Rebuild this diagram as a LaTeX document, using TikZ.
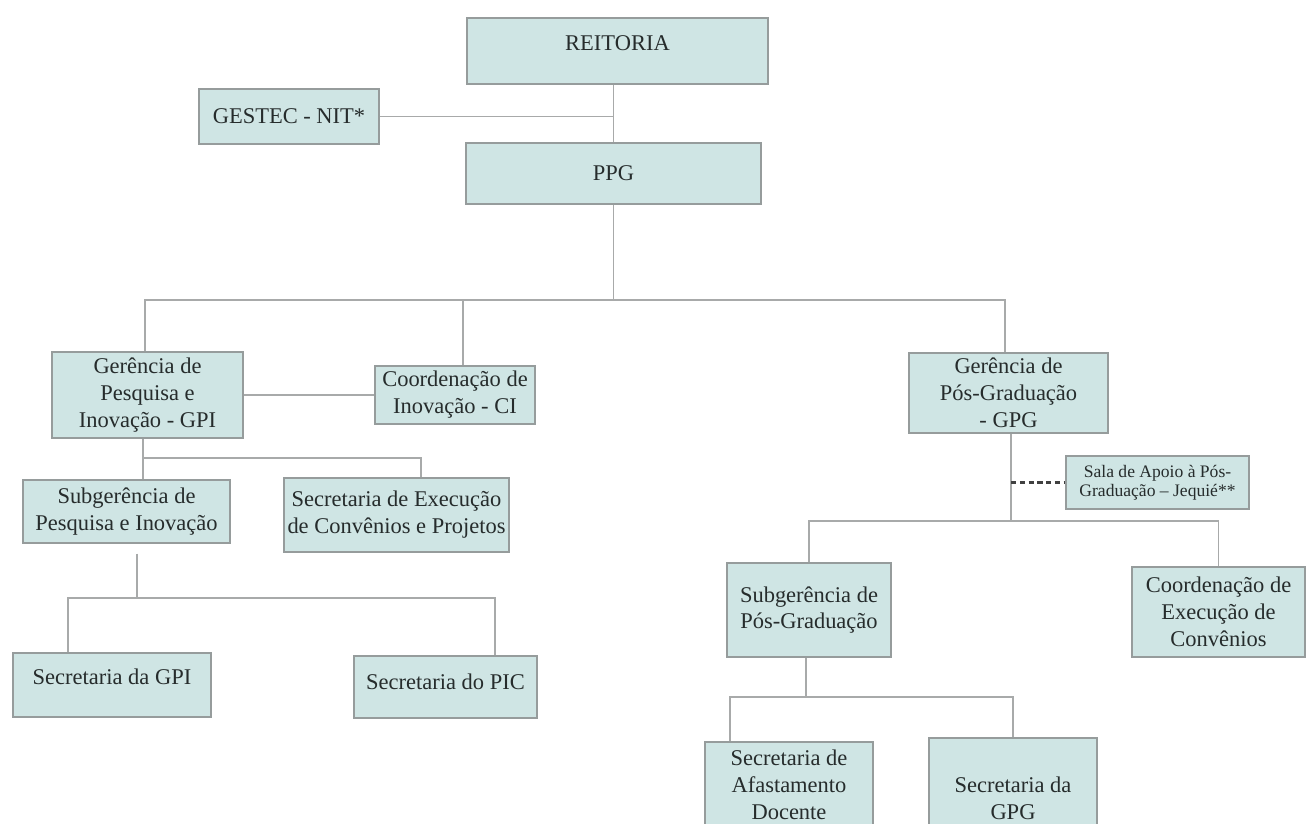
\documentclass[tikz,border=0pt]{standalone}
\usepackage{fontspec}
\setmainfont{Liberation Serif}
\definecolor{boxfill}{RGB}{207,229,228}
\definecolor{boxline}{RGB}{150,156,156}
\definecolor{wire}{RGB}{168,170,170}
\definecolor{ink}{RGB}{38,44,44}
\begin{document}
\begin{tikzpicture}[x=0.02cm, y=-0.02cm,
    unit/.style={draw=boxline, line width=0.8pt, fill=boxfill, text=ink, align=center, inner sep=2pt, font=\fontsize{12.8}{15.3}\selectfont},
    link/.style={wire, line width=1.1pt},
    dotlink/.style={black!75, line width=1.3pt, densely dashed},
    lift/.style={text depth=#1}]
    \useasboundingbox (0,0) rectangle (1306,823);
    % top
    \node[unit, minimum width=6.02cm, minimum height=1.32cm, lift=9pt] (reitoria) at (617.5,51) {REITORIA};
    \node[unit, minimum width=3.6cm, minimum height=1.1cm] (gestec) at (289,116.5) {GESTEC - NIT*};
    \node[unit, minimum width=5.9cm, minimum height=1.22cm] (ppg) at (613.5,173.5) {PPG};
    % research side
    \node[unit, minimum width=3.82cm, minimum height=1.72cm] (gpi) at (147.5,395) {Gerência de\\Pesquisa e\\Inovação - GPI};
    \node[unit, minimum width=3.2cm, minimum height=1.16cm] (ci) at (455,395) {Coordenação de\\Inovação - CI};
    \node[unit, minimum width=4.14cm, minimum height=1.26cm] (subpi) at (126.5,511.5) {Subgerência de\\Pesquisa e Inovação};
    \node[unit, minimum width=4.5cm, minimum height=1.48cm] (secexec) at (396.5,515) {Secretaria de Execução\\de Convênios e Projetos};
    \node[unit, minimum width=3.96cm, minimum height=1.28cm, lift=9pt] (secgpi) at (112,685) {Secretaria da GPI};
    \node[unit, minimum width=3.66cm, minimum height=1.24cm, lift=5.6pt] (secpic) at (445.5,687) {Secretaria do PIC};
    % graduate side
    \node[unit, minimum width=3.98cm, minimum height=1.6cm] (gpg) at (1008.5,393) {Gerência de\\Pós-Graduação\\- GPG};
    \node[unit, minimum width=3.66cm, minimum height=1.06cm, font=\fontsize{10}{11}\selectfont] (sala) at (1157.5,482.5) {Sala de Apoio à Pós-\\Graduação – Jequié**};
    \node[unit, minimum width=3.28cm, minimum height=1.88cm] (subpg) at (809,610) {Subgerência de\\Pós-Graduação};
    \node[unit, minimum width=3.46cm, minimum height=1.8cm] (coordexec) at (1218.5,612) {Coordenação de\\Execução de\\Convênios};
    \node[unit, minimum width=3.36cm, minimum height=1.72cm] (secafast) at (789,785) {Secretaria de\\Afastamento\\Docente};
    \node[unit, minimum width=3.36cm, minimum height=2.4cm] (secgpg) at (1013,798) {Secretaria da\\GPG};
    % spine
    \draw[link] (ppg.north |- reitoria.south) -- (ppg.north);
    \draw[link] (gestec.east) -- (gestec.east -| ppg.north);
    \coordinate (mainbus) at (613.5,300);
    \draw[link] (ppg.south) -- (mainbus);
    \draw[link] ([xshift=-0.05cm]gpi.north) |- (mainbus) -| ([xshift=-0.07cm]gpg.north);
    \draw[link] ([xshift=0.16cm]ci.north) -- ([xshift=0.16cm]ci.north |- mainbus);
    % research branch
    \draw[link] (gpi.east) -- (ci.west);
    \coordinate (gpibus) at (143,458);
    \draw[link] (gpi.south -| gpibus) -- (gpibus);
    \draw[link] (gpibus) -- (gpibus |- subpi.north);
    \draw[link] (gpibus) -| ([xshift=0.49cm]secexec.north);
    \coordinate (subpibus) at (137,598);
    \draw[link] (subpibus |- subpi.south) ++(0,10) -- (subpibus);
    \draw[link] ([xshift=-0.88cm]secgpi.north) |- (subpibus) -| ([xshift=0.99cm]secpic.north);
    % graduate branch
    \coordinate (gpgbus) at (1011,521);
    \draw[link] (gpg.south -| gpgbus) -- (gpgbus);
    \draw[link] (subpg.north) |- (gpgbus) -| (coordexec.north);
    \draw[dotlink] (sala.west -| gpgbus) -- (sala.west);
    \coordinate (subpgbus) at (806,697);
    \draw[link] (subpg.south -| subpgbus) -- (subpgbus);
    \draw[link] ([xshift=-1.18cm]secafast.north) |- (subpgbus) -| (secgpg.north);
\end{tikzpicture}
\end{document}
